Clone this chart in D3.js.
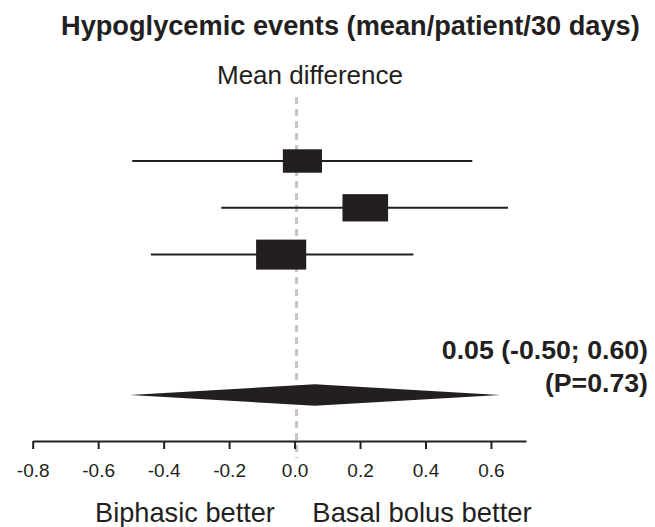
<!DOCTYPE html>
<html>
<head>
<meta charset="utf-8">
<script src="https://cdn.jsdelivr.net/npm/d3@7"></script>
<style>
  body { margin: 0; background: #fff; }
  text { font-family: 'Liberation Sans', Arial, Helvetica, sans-serif; fill: #231f20; }
</style>
</head>
<body>
<div id="chart"></div>
<script>
// study rows: mean difference with 95% CI, and weight (%)
let studies = ['Study 1', 'Study 2', 'Study 3']
let means = [0.024, 0.216, -0.041]
let lower = [-0.496, -0.224, -0.439]
let upper = [0.543, 0.652, 0.363]
let weights = [25, 34, 41]

// pooled estimate (as drawn) and its label
let pooled = [0.062, -0.503, 0.628]
let pooledLabel = ['0.05 (-0.50; 0.60)', '(P=0.73)']

let tickValues = [-0.8, -0.6, -0.4, -0.2, 0.0, 0.2, 0.4, 0.6]

let width = 655
let height = 527

let svg = d3
  .select('#chart')
  .append('svg')
  .attr('width', width)
  .attr('height', height)

let x = d3.scaleLinear().domain([-0.8, 0.707]).range([32.7, 526])
// row index -> vertical position (pooled row sits at index 5)
let y = d3.scaleLinear().domain([0, 5]).range([161, 395])
let boxH = d3.scaleSqrt().domain([0, 41]).range([0, 30])

let dark = '#231f20'

// title
svg
  .append('text')
  .attr('x', 61)
  .attr('y', 35)
  .attr('font-size', 27.2)
  .attr('font-weight', 'bold')
  .text('Hypoglycemic events (mean/patient/30 days)')

svg
  .append('text')
  .attr('x', 310)
  .attr('y', 84)
  .attr('text-anchor', 'middle')
  .attr('font-size', 26)
  .text('Mean difference')

// reference line at zero
svg
  .append('line')
  .attr('x1', x(0) + 2)
  .attr('x2', x(0) + 2)
  .attr('y1', 97)
  .attr('y2', 458)
  .attr('stroke', '#c4c4c4')
  .attr('stroke-width', 3)
  .attr('stroke-dasharray', '7,5')

// confidence intervals
svg
  .selectAll('.ci')
  .data(studies)
  .enter()
  .append('line')
  .attr('class', 'ci')
  .attr('x1', (d, i) => x(lower[i]))
  .attr('x2', (d, i) => x(upper[i]))
  .attr('y1', (d, i) => y(i))
  .attr('y2', (d, i) => y(i))
  .attr('stroke', dark)
  .attr('stroke-width', 2)

// weighted boxes
svg
  .selectAll('.box')
  .data(studies)
  .enter()
  .append('rect')
  .attr('class', 'box')
  .attr('x', (d, i) => x(means[i]) - boxH(weights[i]) * 1.67 / 2)
  .attr('y', (d, i) => y(i) - boxH(weights[i]) / 2)
  .attr('width', (d, i) => boxH(weights[i]) * 1.67)
  .attr('height', (d, i) => boxH(weights[i]))
  .attr('fill', dark)

// pooled diamond
let py = y(5)
svg
  .append('path')
  .attr('d', d3.line()([
    [x(pooled[1]), py],
    [x(pooled[0]), py - 10.7],
    [x(pooled[2]), py],
    [x(pooled[0]), py + 10.7]
  ]) + 'Z')
  .attr('fill', dark)

svg
  .selectAll('.pooled-label')
  .data(pooledLabel)
  .enter()
  .append('text')
  .attr('class', 'pooled-label')
  .attr('x', 648)
  .attr('y', (d, i) => 359 + i * 33)
  .attr('text-anchor', 'end')
  .attr('font-size', 26.7)
  .attr('font-weight', 'bold')
  .text(d => d)

// x axis
let axis = svg
  .append('g')
  .attr('transform', 'translate(0,441)')
  .call(
    d3.axisBottom(x)
      .tickValues(tickValues)
      .tickFormat(d => d.toFixed(1))
      .tickSizeInner(8)
      .tickSizeOuter(0)
      .tickPadding(15)
  )

axis.select('.domain').attr('stroke', dark).attr('stroke-width', 2)
axis.selectAll('.tick line').attr('stroke', dark).attr('stroke-width', 2)
axis
  .selectAll('.tick text')
  .attr('font-size', 19)
  .attr('font-family', "'Liberation Sans', Arial, sans-serif")
  .attr('fill', dark)

// direction labels
svg
  .append('text')
  .attr('x', 185)
  .attr('y', 522)
  .attr('text-anchor', 'middle')
  .attr('font-size', 27.2)
  .text('Biphasic better')

svg
  .append('text')
  .attr('x', 422)
  .attr('y', 522)
  .attr('text-anchor', 'middle')
  .attr('font-size', 27.4)
  .text('Basal bolus better')
</script>
</body>
</html>
